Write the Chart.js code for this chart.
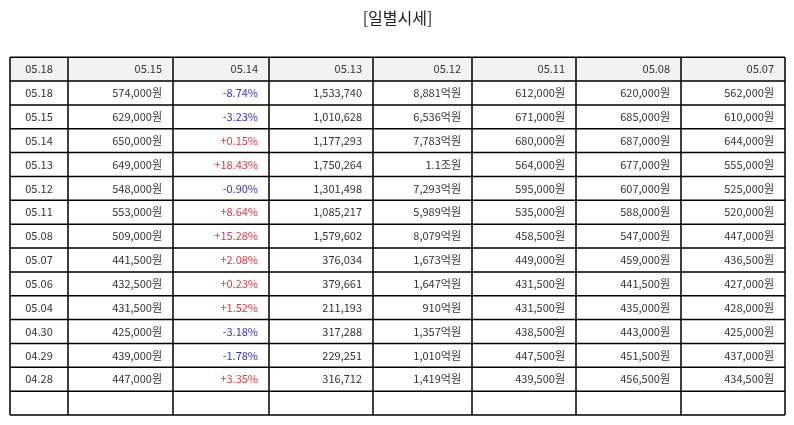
<!DOCTYPE html>
<html>
<head>
<meta charset="utf-8">
<script src="https://cdn.jsdelivr.net/npm/chart.js@4.4.1/dist/chart.umd.min.js"></script>
<style>
html,body{margin:0;padding:0;background:#fff;}
#wrap{width:794px;height:425px;}
</style>
</head>
<body>
<div id="wrap"><canvas id="c" width="794" height="425"></canvas></div>
<script>
const titleText = '[일별시세]';
const headers = ['05.18','05.15','05.14','05.13','05.12','05.11','05.08','05.07'];
const dates = ['05.18','05.15','05.14','05.13','05.12','05.11','05.08','05.07','05.06','05.04','04.30','04.29','04.28'];
const closePrices = ['574,000원','629,000원','650,000원','649,000원','548,000원','553,000원','509,000원','441,500원','432,500원','431,500원','425,000원','439,000원','447,000원'];
const changes = ['-8.74%','-3.23%','+0.15%','+18.43%','-0.90%','+8.64%','+15.28%','+2.08%','+0.23%','+1.52%','-3.18%','-1.78%','+3.35%'];
const volumes = ['1,533,740','1,010,628','1,177,293','1,750,264','1,301,498','1,085,217','1,579,602','376,034','379,661','211,193','317,288','229,251','316,712'];
const amounts = ['8,881억원','6,536억원','7,783억원','1.1조원','7,293억원','5,989억원','8,079억원','1,673억원','1,647억원','910억원','1,357억원','1,010억원','1,419억원'];
const openPrices = ['612,000원','671,000원','680,000원','564,000원','595,000원','535,000원','458,500원','449,000원','431,500원','431,500원','438,500원','447,500원','439,500원'];
const highPrices = ['620,000원','685,000원','687,000원','677,000원','607,000원','588,000원','547,000원','459,000원','441,500원','435,000원','443,000원','451,500원','456,500원'];
const lowPrices = ['562,000원','610,000원','644,000원','555,000원','525,000원','520,000원','447,000원','436,500원','427,000원','428,000원','425,000원','437,000원','434,500원'];
const columns = [dates, closePrices, changes, volumes, amounts, openPrices, highPrices, lowPrices];
const emptyRows = 1;

// layout (x units along table width)
const colEdges = [0, 58, 163, 259, 363, 462, 566, 671, 775];
const totalRows = 1 + dates.length + emptyRows;

const datasets = columns.map((col, ci) => ({
  label: headers[ci],
  data: col.map((v, ri) => ({x: (colEdges[ci] + colEdges[ci+1]) / 2, y: ri + 1.5, text: v})),
  pointRadius: 0,
  showLine: false
}));

const tablePlugin = {
  id: 'tablePlugin',
  afterDatasetsDraw(chart) {
    const ctx = chart.ctx;
    const xs = chart.scales.x, ys = chart.scales.y;
    const left = xs.getPixelForValue(colEdges[0]);
    const right = xs.getPixelForValue(colEdges[colEdges.length-1]);
    const top = ys.getPixelForValue(0);
    const bottom = ys.getPixelForValue(totalRows);
    ctx.save();
    ctx.fillStyle = '#f2f2f2';
    ctx.fillRect(left, top, right-left, ys.getPixelForValue(1)-top);
    ctx.font = '11px "Noto Sans CJK KR", "Noto Sans", sans-serif';
    ctx.textBaseline = 'middle';
    const pad = 11;
    headers.forEach((h, ci) => {
      const yc = ys.getPixelForValue(0.5);
      ctx.fillStyle = '#333';
      if (ci === 0) {
        ctx.textAlign = 'center';
        ctx.fillText(h, xs.getPixelForValue((colEdges[0]+colEdges[1])/2), yc);
      } else {
        ctx.textAlign = 'right';
        ctx.fillText(h, xs.getPixelForValue(colEdges[ci+1]) - pad, yc);
      }
    });
    chart.data.datasets.forEach((ds, ci) => {
      const meta = chart.getDatasetMeta(ci);
      meta.data.forEach((pt, ri) => {
        const t = ds.data[ri].text;
        let color = '#333';
        if (ci === 2) color = t.startsWith('-') ? '#3434c8' : '#e23a46';
        ctx.fillStyle = color;
        if (ci === 0) {
          ctx.textAlign = 'center';
          ctx.fillText(t, pt.x, pt.y);
        } else {
          ctx.textAlign = 'right';
          ctx.fillText(t, xs.getPixelForValue(colEdges[ci+1]) - pad, pt.y);
        }
      });
    });
    ctx.strokeStyle = '#000';
    ctx.lineWidth = 1.5;
    ctx.beginPath();
    for (let r = 0; r <= totalRows; r++) {
      const y = ys.getPixelForValue(r);
      ctx.moveTo(left, y); ctx.lineTo(right, y);
    }
    colEdges.forEach(e => {
      const x = xs.getPixelForValue(e);
      ctx.moveTo(x, top); ctx.lineTo(x, bottom);
    });
    ctx.stroke();
    ctx.restore();
  }
};

new Chart(document.getElementById('c'), {
  type: 'scatter',
  data: {datasets},
  options: {
    responsive: false,
    animation: false,
    devicePixelRatio: 1,
    layout: {padding: {left: 10, right: 9, top: 0, bottom: 10}},
    scales: {
      x: {type: 'linear', display: false, min: colEdges[0], max: colEdges[colEdges.length-1]},
      y: {type: 'linear', display: false, min: 0, max: totalRows, reverse: true}
    },
    plugins: {
      legend: {display: false},
      tooltip: {enabled: false},
      title: {
        display: true,
        text: titleText,
        color: '#222',
        font: {size: 16, weight: 'normal', family: '"Noto Sans CJK KR", "Noto Sans", sans-serif'},
        padding: {top: 8, bottom: 30}
      }
    }
  },
  plugins: [tablePlugin]
});
</script>
</body>
</html>
